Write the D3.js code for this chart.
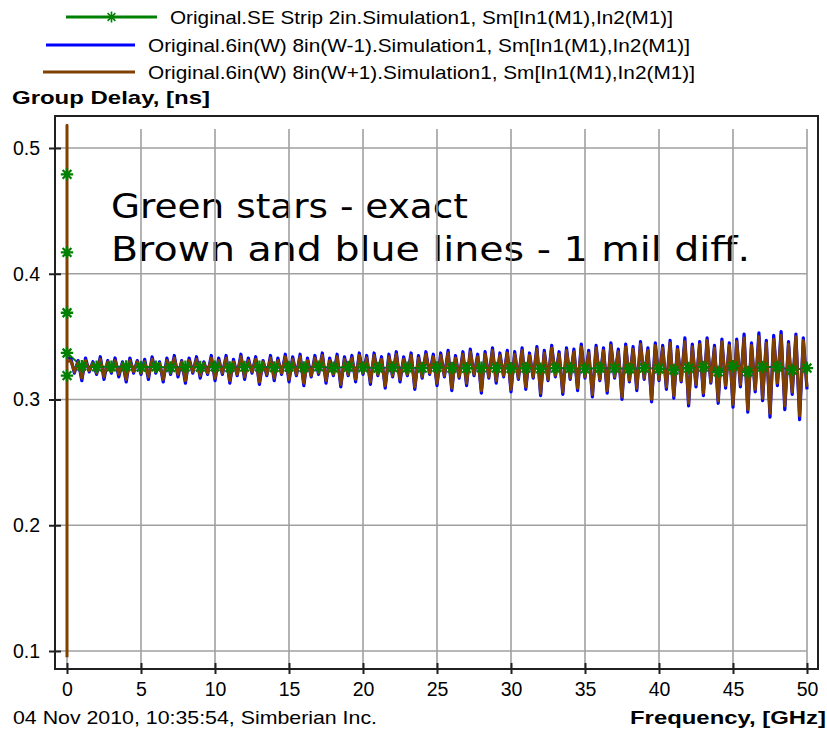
<!DOCTYPE html>
<html>
<head>
<meta charset="utf-8">
<script src="https://cdn.jsdelivr.net/npm/d3@7"></script>
<style>
  body { margin: 0; background: #fff; }
  svg { display: block; }
</style>
</head>
<body>
<svg id="chart" width="827" height="730"></svg>
<script>
// ---- data -------------------------------------------------------------
const xTicks = [0, 5, 10, 15, 20, 25, 30, 35, 40, 45, 50];
const yTicks = [0.1, 0.2, 0.3, 0.4, 0.5];
const yTickLabels = ["0.1", "0.2", "0.3", "0.4", "0.5"];

const seriesNames = [
  "Original.SE Strip 2in.Simulation1, Sm[In1(M1),In2(M1)]",
  "Original.6in(W) 8in(W-1).Simulation1, Sm[In1(M1),In2(M1)]",
  "Original.6in(W) 8in(W+1).Simulation1, Sm[In1(M1),In2(M1)]"
];
const seriesColors = ["#008000", "#0000ff", "#804000"];

// SE strip, exact model: samples at DC, then every 1 GHz
const greenDcValues = [0.479, 0.417, 0.369, 0.319, 0.337];
const greenFreq = [1,2,3,4,5,6,7,8,9,10,11,12,13,14,15,16,17,18,19,20,21,22,23,24,25,
                   26,27,28,29,30,31,32,33,34,35,36,37,38,39,40,41,42,43,44,45,46,47,48,49,50];
const greenValues = [
  0.3265, 0.3260, 0.3260, 0.3262, 0.3258, 0.3260, 0.3255, 0.3260, 0.3258, 0.3260,
  0.3255, 0.3258, 0.3260, 0.3255, 0.3258, 0.3255, 0.3260, 0.3252, 0.3258, 0.3255,
  0.3250, 0.3255, 0.3252, 0.3250, 0.3255, 0.3250, 0.3248, 0.3252, 0.3250, 0.3248,
  0.3250, 0.3245, 0.3250, 0.3248, 0.3245, 0.3250, 0.3248, 0.3245, 0.3250, 0.3245,
  0.3235, 0.3250, 0.3258, 0.3220, 0.3265, 0.3220, 0.3258, 0.3258, 0.3235, 0.3250
];

// W+1 / W-1 models: DC samples, then a 0.25 GHz sweep from 0.25 to 50 GHz
const brownDcValues = [0.095, 0.518, 0.330];
const blueDcValues = [0.333];
const sweepStep = 0.25;

const brownValues = [
  0.331, 0.322, 0.330, 0.317, 0.331, 0.323, 0.329, 0.321, 0.332, 0.318, 0.330, 0.322, 0.331, 0.320, 0.329, 0.316, 0.331, 0.322, 0.330, 0.321,
  0.330, 0.318, 0.332, 0.322, 0.329, 0.316, 0.331, 0.321, 0.333, 0.320, 0.330, 0.315, 0.331, 0.322, 0.332, 0.319, 0.329, 0.321, 0.333, 0.317,
  0.331, 0.321, 0.333, 0.315, 0.330, 0.320, 0.334, 0.318, 0.331, 0.322, 0.332, 0.314, 0.330, 0.320, 0.333, 0.317, 0.331, 0.321, 0.334, 0.316,
  0.332, 0.320, 0.334, 0.313, 0.331, 0.319, 0.333, 0.321, 0.335, 0.315, 0.331, 0.320, 0.334, 0.312, 0.332, 0.320, 0.333, 0.316, 0.335, 0.321,
  0.333, 0.314, 0.335, 0.320, 0.332, 0.311, 0.334, 0.319, 0.336, 0.316, 0.332, 0.320, 0.335, 0.310, 0.333, 0.318, 0.336, 0.321, 0.334, 0.313,
  0.335, 0.319, 0.337, 0.309, 0.333, 0.318, 0.336, 0.313, 0.338, 0.320, 0.334, 0.307, 0.336, 0.318, 0.339, 0.315, 0.335, 0.319, 0.337, 0.308,
  0.336, 0.317, 0.339, 0.310, 0.335, 0.318, 0.340, 0.305, 0.337, 0.316, 0.341, 0.319, 0.336, 0.306, 0.339, 0.317, 0.338, 0.309, 0.342, 0.318,
  0.337, 0.304, 0.341, 0.316, 0.339, 0.307, 0.343, 0.318, 0.338, 0.302, 0.342, 0.315, 0.340, 0.309, 0.344, 0.317, 0.339, 0.300, 0.343, 0.316,
  0.341, 0.310, 0.345, 0.303, 0.340, 0.315, 0.346, 0.297, 0.342, 0.312, 0.344, 0.305, 0.347, 0.314, 0.341, 0.299, 0.346, 0.311, 0.343, 0.296,
  0.346, 0.312, 0.349, 0.292, 0.343, 0.308, 0.350, 0.301, 0.345, 0.289, 0.348, 0.313, 0.351, 0.295, 0.344, 0.306, 0.350, 0.287, 0.347, 0.310
];

const blueValues = [
  0.333, 0.321, 0.331, 0.315, 0.333, 0.322, 0.330, 0.320, 0.334, 0.316, 0.331, 0.321, 0.333, 0.318, 0.330, 0.314, 0.333, 0.321, 0.331, 0.320,
  0.332, 0.316, 0.334, 0.321, 0.330, 0.314, 0.333, 0.320, 0.335, 0.318, 0.331, 0.313, 0.333, 0.321, 0.334, 0.317, 0.330, 0.320, 0.335, 0.315,
  0.333, 0.320, 0.335, 0.313, 0.332, 0.319, 0.336, 0.316, 0.333, 0.321, 0.334, 0.312, 0.331, 0.319, 0.335, 0.315, 0.333, 0.320, 0.336, 0.314,
  0.334, 0.319, 0.336, 0.311, 0.333, 0.318, 0.335, 0.320, 0.337, 0.313, 0.333, 0.319, 0.336, 0.310, 0.334, 0.319, 0.335, 0.314, 0.337, 0.320,
  0.335, 0.312, 0.337, 0.319, 0.334, 0.309, 0.336, 0.318, 0.338, 0.314, 0.334, 0.319, 0.337, 0.308, 0.335, 0.317, 0.338, 0.320, 0.336, 0.311,
  0.337, 0.318, 0.339, 0.307, 0.335, 0.317, 0.338, 0.311, 0.340, 0.319, 0.336, 0.305, 0.338, 0.317, 0.341, 0.313, 0.337, 0.318, 0.339, 0.306,
  0.338, 0.316, 0.341, 0.308, 0.337, 0.317, 0.342, 0.303, 0.339, 0.315, 0.343, 0.318, 0.338, 0.304, 0.341, 0.316, 0.340, 0.307, 0.344, 0.317,
  0.339, 0.302, 0.343, 0.315, 0.341, 0.305, 0.345, 0.317, 0.340, 0.300, 0.344, 0.314, 0.342, 0.307, 0.346, 0.316, 0.341, 0.298, 0.345, 0.315,
  0.343, 0.308, 0.347, 0.301, 0.342, 0.314, 0.349, 0.295, 0.344, 0.310, 0.346, 0.303, 0.349, 0.313, 0.343, 0.297, 0.348, 0.309, 0.345, 0.294,
  0.348, 0.310, 0.352, 0.290, 0.345, 0.306, 0.353, 0.299, 0.347, 0.286, 0.351, 0.311, 0.354, 0.292, 0.346, 0.304, 0.352, 0.284, 0.349, 0.308
];

const noteLines = ["Green stars - exact", "Brown and blue lines - 1 mil diff."];

// ---- layout -----------------------------------------------------------
const svg = d3.select("#chart");
const frame = { left: 55, top: 116, right: 818, bottom: 669 };
const x = d3.scaleLinear().domain([0, 50]).range([67, 807]);
const y = d3.scaleLinear().domain([0.1, 0.5]).range([651, 148]);
const font = "'Liberation Sans', Arial, sans-serif";

// ---- legend -----------------------------------------------------------
const legendRows = [
  { name: seriesNames[0], color: seriesColors[0], x1: 66, x2: 157, tx: 170, ly: 17, ty: 24, tw: 503, star: true },
  { name: seriesNames[1], color: seriesColors[1], x1: 46, x2: 135, tx: 148, ly: 45, ty: 52, tw: 542, star: false },
  { name: seriesNames[2], color: seriesColors[2], x1: 43, x2: 135, tx: 148, ly: 72, ty: 79, tw: 547, star: false }
];

function starPath(r) {
  const d = r * Math.SQRT1_2;
  return `M${-r},0H${r}M0,${-r}V${r}M${-d},${-d}L${d},${d}M${-d},${d}L${d},${-d}`;
}

const legend = svg.append("g");
legendRows.forEach(row => {
  legend.append("line")
    .attr("x1", row.x1).attr("x2", row.x2).attr("y1", row.ly).attr("y2", row.ly)
    .attr("stroke", row.color).attr("stroke-width", 3);
  if (row.star) {
    legend.append("path")
      .attr("d", starPath(5.5))
      .attr("transform", `translate(${(row.x1 + row.x2) / 2},${row.ly})`)
      .attr("stroke", row.color).attr("stroke-width", 1.6).attr("fill", "none");
  }
  legend.append("text")
    .attr("x", row.tx).attr("y", row.ty)
    .attr("font-family", font).attr("font-size", 18.5)
    .attr("textLength", row.tw).attr("lengthAdjust", "spacingAndGlyphs")
    .attr("fill", "#000")
    .text(row.name);
});

// axis titles and footer
svg.append("text")
  .attr("x", 12).attr("y", 104)
  .attr("font-family", font).attr("font-size", 18.5).attr("font-weight", "bold")
  .attr("textLength", 198).attr("lengthAdjust", "spacingAndGlyphs")
  .text("Group Delay, [ns]");

svg.append("text")
  .attr("x", 630).attr("y", 724)
  .attr("font-family", font).attr("font-size", 18.5).attr("font-weight", "bold")
  .attr("textLength", 196).attr("lengthAdjust", "spacingAndGlyphs")
  .text("Frequency, [GHz]");

svg.append("text")
  .attr("x", 13).attr("y", 724)
  .attr("font-family", font).attr("font-size", 18.5)
  .attr("textLength", 364).attr("lengthAdjust", "spacingAndGlyphs")
  .text("04 Nov 2010, 10:35:54, Simberian Inc.");

// ---- note text inside the plot ------------------------------------------
const note = svg.append("g");
note.selectAll("text")
  .data(noteLines)
  .join("text")
  .attr("x", 111)
  .attr("y", (d, i) => 218 + i * 43)
  .attr("font-family", "'DejaVu Sans', Verdana, sans-serif")
  .attr("font-size", 33)
  .attr("textLength", (d, i) => i === 0 ? 357 : 639)
  .attr("lengthAdjust", "spacingAndGlyphs")
  .attr("fill", "#000")
  .text(d => d);

// ---- grid -------------------------------------------------------------
const grid = svg.append("g").attr("stroke", "#a0a0a0").attr("stroke-width", 1.6);
grid.selectAll("line.v")
  .data(xTicks)
  .join("line")
  .attr("class", "v")
  .attr("x1", d => x(d)).attr("x2", d => x(d))
  .attr("y1", 129).attr("y2", frame.bottom);
grid.selectAll("line.h")
  .data(yTicks)
  .join("line")
  .attr("class", "h")
  .attr("x1", frame.left).attr("x2", x(50))
  .attr("y1", d => y(d)).attr("y2", d => y(d));

// ---- series -----------------------------------------------------------
svg.append("clipPath").attr("id", "plotClip")
  .append("rect")
  .attr("x", frame.left).attr("y", frame.top)
  .attr("width", frame.right - frame.left).attr("height", frame.bottom - frame.top);

const plot = svg.append("g").attr("clip-path", "url(#plotClip)");

const sweep = (dc, vals) =>
  dc.map(v => ({ f: 0, v })).concat(vals.map((v, i) => ({ f: (i + 1) * sweepStep, v })));

const blueData = sweep(blueDcValues, blueValues);
const brownData = sweep(brownDcValues, brownValues);
const greenData = greenDcValues.map(v => ({ f: 0, v }))
  .concat(greenValues.map((v, i) => ({ f: greenFreq[i], v })));

const line = d3.line().x(d => x(d.f)).y(d => y(d.v));

// the exact trace sits underneath; only its markers sit on top
plot.append("path")
  .datum(greenData)
  .attr("d", line)
  .attr("fill", "none")
  .attr("stroke", seriesColors[0])
  .attr("stroke-width", 2);

plot.append("path")
  .datum(blueData)
  .attr("d", line)
  .attr("fill", "none")
  .attr("stroke", seriesColors[1])
  .attr("stroke-width", 3.2)
  .attr("stroke-linejoin", "round");

plot.append("path")
  .datum(brownData)
  .attr("d", line)
  .attr("fill", "none")
  .attr("stroke", seriesColors[2])
  .attr("stroke-width", 3)
  .attr("stroke-linejoin", "round");

plot.selectAll("path.star")
  .data(greenData)
  .join("path")
  .attr("class", "star")
  .attr("d", starPath(6.2))
  .attr("transform", d => `translate(${x(d.f)},${y(d.v)})`)
  .attr("stroke", seriesColors[0])
  .attr("stroke-width", 2.3)
  .attr("fill", "none");

// ---- frame and axes ---------------------------------------------------
svg.append("rect")
  .attr("x", frame.left).attr("y", frame.top)
  .attr("width", frame.right - frame.left).attr("height", frame.bottom - frame.top)
  .attr("fill", "none").attr("stroke", "#202020").attr("stroke-width", 2);

const xAxis = svg.append("g")
  .attr("transform", `translate(0,${frame.bottom})`)
  .call(d3.axisBottom(x).tickValues(xTicks).tickSize(5).tickPadding(8).tickFormat(d3.format("d")));
xAxis.select(".domain").remove();
xAxis.selectAll(".tick line").attr("y1", -6).attr("y2", 5).attr("stroke", "#202020").attr("stroke-width", 2);
xAxis.selectAll(".tick text")
  .attr("font-family", font).attr("font-size", 19.5).attr("fill", "#000");

const yAxis = svg.append("g")
  .attr("transform", `translate(${frame.left},0)`)
  .call(d3.axisLeft(y).tickValues(yTicks).tickSize(6).tickPadding(9)
    .tickFormat((d, i) => yTickLabels[i]));
yAxis.select(".domain").remove();
yAxis.selectAll(".tick line").attr("x1", -6).attr("x2", 6).attr("stroke", "#202020").attr("stroke-width", 2);
yAxis.selectAll(".tick text")
  .attr("font-family", font).attr("font-size", 19.5).attr("fill", "#000");
</script>
</body>
</html>
